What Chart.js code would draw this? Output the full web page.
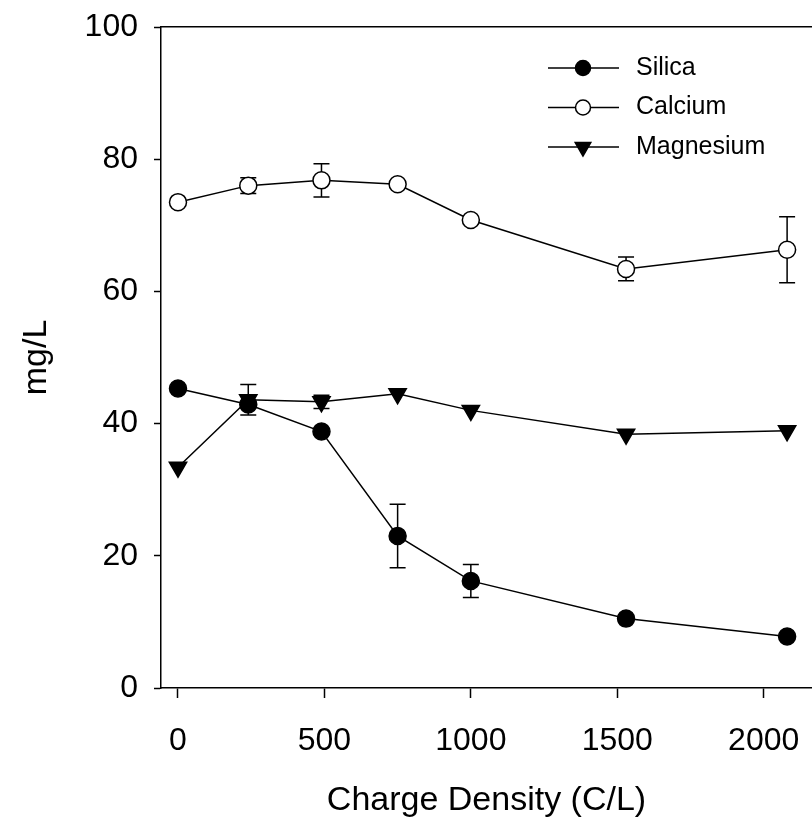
<!DOCTYPE html>
<html>
<head>
<meta charset="utf-8">
<script src="https://cdn.jsdelivr.net/npm/chart.js@4/dist/chart.umd.min.js"></script>
<style>
  html, body { margin: 0; padding: 0; background: #fff; }
  #wrap { width: 812px; height: 822px; }
</style>
</head>
<body>
<div id="wrap"><canvas id="myChart" width="812" height="822"></canvas></div>
<script>
// charge density (C/L)
const chargeDensity = [0, 240, 490, 750, 1000, 1530, 2080];

const silica = [45.3, 42.9, 38.8, 23.0, 16.2, 10.5, 7.8];
const silicaErr = [0, 0, 0, 4.8, 2.5, 0.6, 0];

const calcium = [73.5, 76.0, 76.8, 76.2, 70.8, 63.4, 66.3];
const calciumErr = [0, 1.2, 2.5, 0, 0, 1.8, 5.0];

const magnesium = [33.4, 43.6, 43.3, 44.5, 42.0, 38.4, 38.9];
const magnesiumErr = [0, 2.3, 1.0, 0, 0, 0, 0];

const xTicks = [0, 500, 1000, 1500, 2000];
const yTicks = [0, 20, 40, 60, 80, 100];

Chart.defaults.font.family = '"Liberation Sans", Arial, sans-serif';
Chart.defaults.color = '#000';

function pts(ys) {
    return chargeDensity.map((x, i) => ({ x: x, y: ys[i] }));
}

// error bars, drawn under the lines and markers
const errorBars = {
    id: 'errorBars',
    beforeDatasetsDraw(chart) {
        const ctx = chart.ctx;
        const xs = chart.scales.x, ys = chart.scales.y;
        ctx.save();
        ctx.strokeStyle = '#000';
        ctx.lineWidth = 1.5;
        chart.data.datasets.forEach(ds => {
            ds.data.forEach((p, i) => {
                const e = ds.errors[i];
                if (!e) return;
                const px = xs.getPixelForValue(p.x);
                const top = ys.getPixelForValue(p.y + e);
                const bot = ys.getPixelForValue(p.y - e);
                ctx.beginPath();
                ctx.moveTo(px, top); ctx.lineTo(px, bot);
                ctx.moveTo(px - 8, top); ctx.lineTo(px + 8, top);
                ctx.moveTo(px - 8, bot); ctx.lineTo(px + 8, bot);
                ctx.stroke();
            });
        });
        ctx.restore();
    }
};

// legend: line + marker, top right inside the plot
const lineLegend = {
    id: 'lineLegend',
    afterDraw(chart) {
        const ctx = chart.ctx;
        ctx.save();
        chart.data.datasets.forEach((ds, i) => {
            const y = 68 + i * 39.5;
            ctx.strokeStyle = '#000';
            ctx.lineWidth = 1.5;
            ctx.beginPath();
            ctx.moveTo(548, y); ctx.lineTo(619, y);
            ctx.stroke();
            ctx.fillStyle = ds.pointBackgroundColor;
            Chart.helpers.drawPoint(ctx, {
                pointStyle: ds.pointStyle,
                radius: ds.pointRadius - 1,
                rotation: ds.pointRotation || 0,
                borderWidth: 1.5
            }, 583, y);
            ctx.fillStyle = '#000';
            ctx.font = '25px "Liberation Sans", Arial, sans-serif';
            ctx.textBaseline = 'middle';
            ctx.fillText(ds.label, 636, y);
        });
        ctx.restore();
    }
};

const noPad = s => { s.paddingLeft = 0; s.paddingRight = 0; s.paddingTop = 0; s.paddingBottom = 0; };

const ctx = document.getElementById('myChart').getContext('2d');
const myChart = new Chart(ctx, {
    type: 'line',
    data: {
        datasets: [{
            label: 'Silica',
            data: pts(silica),
            errors: silicaErr,
            borderColor: '#000',
            borderWidth: 1.5,
            pointStyle: 'circle',
            pointRadius: 8.5,
            pointBackgroundColor: '#000',
            pointBorderColor: '#000',
            pointBorderWidth: 1.5
        }, {
            label: 'Calcium',
            data: pts(calcium),
            errors: calciumErr,
            borderColor: '#000',
            borderWidth: 1.5,
            pointStyle: 'circle',
            pointRadius: 8.5,
            pointBackgroundColor: '#fff',
            pointBorderColor: '#000',
            pointBorderWidth: 1.5
        }, {
            label: 'Magnesium',
            data: pts(magnesium),
            errors: magnesiumErr,
            borderColor: '#000',
            borderWidth: 1.5,
            pointStyle: 'triangle',
            pointRotation: 180,
            pointRadius: 10,
            pointBackgroundColor: '#000',
            pointBorderColor: '#000',
            pointBorderWidth: 1.5
        }]
    },
    options: {
        responsive: false,
        animation: false,
        layout: { autoPadding: false, padding: { left: 0, right: 0, top: 27, bottom: 0 } },
        plugins: {
            legend: { display: false },
            tooltip: { enabled: false }
        },
        scales: {
            x: {
                type: 'linear',
                min: -58,
                max: 2165,
                afterBuildTicks: s => { s.ticks = xTicks.map(v => ({ value: v })); },
                afterFit: s => { s.height = 134; noPad(s); },
                grid: { drawOnChartArea: false, tickLength: 10, tickColor: '#000', tickWidth: 1.5 },
                border: { color: '#000', width: 1.5 },
                ticks: { font: { size: 32 }, padding: 24, maxRotation: 0, callback: v => String(v) },
                title: { display: true, text: 'Charge Density (C/L)', font: { size: 34 }, padding: { top: 0, bottom: 1 } }
            },
            xTop: {
                type: 'linear',
                position: 'top',
                min: -58,
                max: 2165,
                afterFit: s => { s.height = 0; noPad(s); },
                grid: { display: false },
                border: { color: '#000', width: 1.5 },
                ticks: { display: false }
            },
            y: {
                min: 0,
                max: 100,
                afterBuildTicks: s => { s.ticks = yTicks.map(v => ({ value: v })); },
                afterFit: s => { s.width = 161; noPad(s); },
                grid: { drawOnChartArea: false, tickLength: 7, tickColor: '#000', tickWidth: 1.5 },
                border: { color: '#000', width: 1.5 },
                ticks: { font: { size: 32 }, padding: 16 },
                title: { display: true, text: 'mg/L', font: { size: 34 }, padding: { top: 16, bottom: 0 } }
            }
        }
    },
    plugins: [errorBars, lineLegend]
});
</script>
</body>
</html>
